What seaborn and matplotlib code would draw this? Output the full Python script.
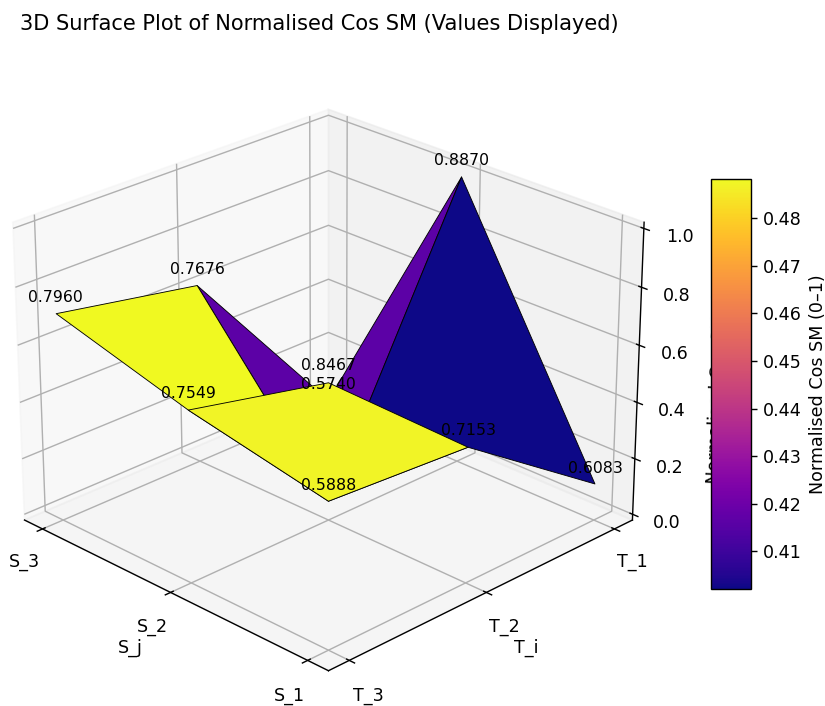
import numpy as np
import matplotlib
matplotlib.use("Agg")
import matplotlib.pyplot as plt
import seaborn as sns

s_labels = ["S_1", "S_2", "S_3"]
t_labels = ["T_1", "T_2", "T_3"]
row_s1 = [0.6083, 0.7153, 0.8467]
row_s2 = [0.8870, 0.5888, 0.7549]
row_s3 = [0.5740, 0.7676, 0.7960]

values = np.array([row_s1, row_s2, row_s3])
normed = (values - values.min()) / (values.max() - values.min())
xi = np.arange(len(s_labels))
yi = np.arange(len(t_labels))
X, Y = np.meshgrid(xi, yi, indexing="ij")

cmap = sns.color_palette("plasma", as_cmap=True)

DPI = 126
W, H = 825, 706
fig = plt.figure(figsize=(W / DPI, H / DPI), dpi=DPI)
ax = fig.add_subplot(111, projection="3d")
ax.set_position([-0.0655, -0.0247, 0.905, 0.964])
surf = ax.plot_surface(X, Y, normed, cmap=cmap, edgecolor="k", linewidth=0.5)
for i in range(3):
    for j in range(3):
        ax.text(X[i, j], Y[i, j], normed[i, j] + 0.03, f"{values[i, j]:.4f}",
                ha="center", va="bottom", color="black", fontsize=9)
ax.set_xticks(xi)
ax.set_xticklabels(s_labels)
ax.set_yticks(yi)
ax.set_yticklabels(t_labels)
ax.set_zticks([0, 0.2, 0.4, 0.6, 0.8, 1.0])
ax.set_xlabel("S_j")
ax.set_ylabel("T_i")
ax.set_zlabel("Normalised Cos SM (0–1)", labelpad=5.2)
ax.view_init(elev=25, azim=135)
fig.text(319 / W, 1 - 24 / H, "3D Surface Plot of Normalised Cos SM (Values Displayed)",
         ha="center", va="center", fontsize=12)
cax = fig.add_axes([711 / W, 1 - 589 / H, 40 / W, 410 / H])
cb = fig.colorbar(surf, cax=cax)
cb.set_label("Normalised Cos SM (0–1)")
fig.savefig("out.png", dpi=DPI)
